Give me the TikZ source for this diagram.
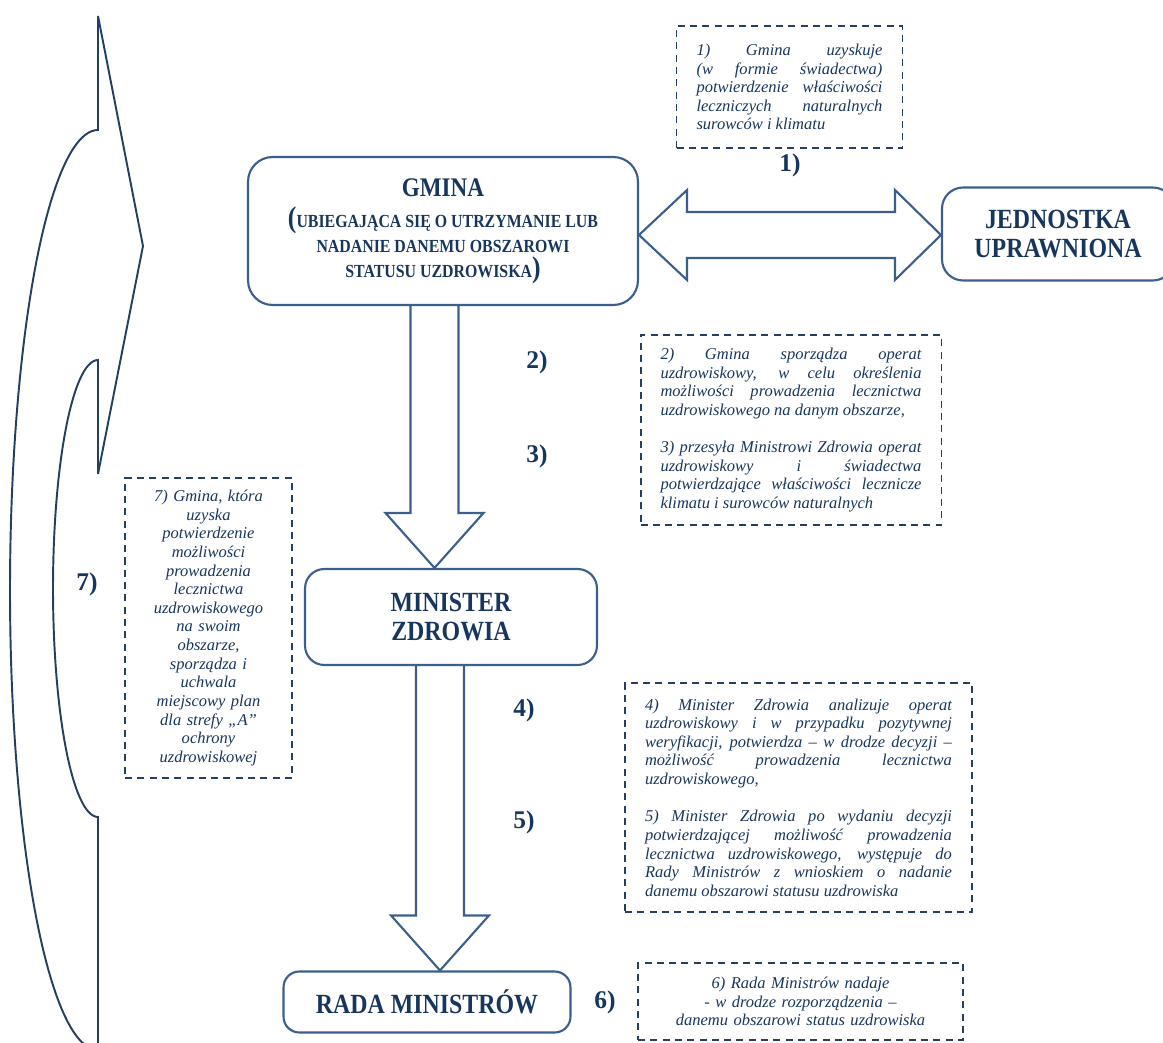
\documentclass[tikz,border=0pt]{standalone}
\usepackage{fontspec}
\setmainfont{Liberation Serif}
\newfontfamily\titlefont[FakeStretch=0.86]{Liberation Serif}
\usepackage{tikz}
\usetikzlibrary{positioning,calc}

\definecolor{navy}{HTML}{17365D}
\definecolor{framecol}{HTML}{3A5F8D}
\definecolor{dashcol}{HTML}{243F60}

\newcommand{\notesetup}{\parindent=0pt\tolerance=10000\hyphenpenalty=10000}

\tikzset{
  mainbox/.style={draw=framecol, line width=1.2pt, text=navy, align=center,
    font=\titlefont\bfseries\fontsize{15.8}{17}\selectfont},
  notebox/.style={draw=dashcol, line width=1.1pt, dash pattern=on 4pt off 3pt,
    text=navy, inner xsep=0.4cm, inner ysep=3pt,
    font=\itshape\fontsize{9.4}{10.6}\selectfont\notesetup},
  steplabel/.style={text=navy, font=\bfseries\fontsize{14.5}{14.5}\selectfont},
  blockarrow/.style={draw=framecol, line width=1.2pt, line join=miter},
  curvearrow/.style={draw=dashcol, line width=1.1pt, line join=miter},
}

% down block arrow: upper node, lower node, column
\newcommand{\blockdown}[3]{%
  \draw[blockarrow] ($(#1.south -| #3)+(-24,0)$) -- ($(#2.north -| #3)+(-24,-55)$)
    -- ($(#2.north -| #3)+(-49,-55)$) -- (#2.north -| #3)
    -- ($(#2.north -| #3)+(49,-55)$) -- ($(#2.north -| #3)+(24,-55)$)
    -- ($(#1.south -| #3)+(24,0)$);}

\begin{document}
\begin{tikzpicture}[x=0.02cm, y=-0.02cm]
    \useasboundingbox (0,0) rectangle (1163,1043);
    \clip (0,0) rectangle (1163,1043);

    % Main boxes
    \node[mainbox, rounded corners=14pt, minimum width=7.8cm, minimum height=2.96cm,
      font=\titlefont\bfseries\fontsize{10.5}{14}\selectfont] (gmina) at (443,231)
      {{\fontsize{15.3}{18}\selectfont GMINA}\\[4pt]
       {\fontsize{17}{14}\selectfont(}UBIEGAJĄCA SIĘ O UTRZYMANIE LUB\\
       NADANIE DANEMU OBSZAROWI\\
       STATUSU UZDROWISKA{\fontsize{17}{14}\selectfont)}};
    \node[mainbox, rounded corners=12pt, minimum width=4.64cm, minimum height=1.86cm] (jednostka) at (1058,234) {JEDNOSTKA\\UPRAWNIONA};
    \node[mainbox, rounded corners=11pt, minimum width=5.84cm, minimum height=1.92cm] (minister) at (451,617) {MINISTER\\ZDROWIA};
    \node[mainbox, rounded corners=9pt, minimum width=5.74cm, minimum height=1.22cm] (rada) at (427,1002) {RADA MINISTRÓW};

    % Block arrows
    \coordinate (row1) at (0,235);
    \coordinate (col1) at (434.5,0);
    \coordinate (col2) at (440,0);
    \draw[blockarrow] (gmina.east |- row1) -- ($(gmina.east |- row1)+(48,-45)$)
      -- ($(gmina.east |- row1)+(48,-23)$) -- ($(jednostka.west |- row1)+(-46,-23)$)
      -- ($(jednostka.west |- row1)+(-46,-45)$) -- (jednostka.west |- row1)
      -- ($(jednostka.west |- row1)+(-46,45)$) -- ($(jednostka.west |- row1)+(-46,23)$)
      -- ($(gmina.east |- row1)+(48,23)$) -- ($(gmina.east |- row1)+(48,45)$) -- cycle;
    \blockdown{gmina}{minister}{col1}
    \blockdown{minister}{rada}{col2}

    % Curved arrow back to the start
    \draw[curvearrow] (98,1050) -- (98,817)
      -- plot[domain=-90:90, samples=60] ({98-45*cos(\x)}, {588.5-228.5*sin(\x)})
      -- (98,474) -- (143,246) -- (98,16) -- (98,130)
      -- plot[domain=90:-90, samples=90] ({98-88*cos(\x)}, {590-460*sin(\x)})
      -- cycle;

    % Step numbers
    \node[steplabel] (s1) at (790,165) {1)};
    \node[steplabel] (s2) at (537,362) {2)};
    \node[steplabel] (s3) at (537,456) {3)};
    \node[steplabel] (s4) at (524,710) {4)};
    \node[steplabel] (s5) at (524,822) {5)};
    \node[steplabel] (s6) at (605,1002) {6)};
    \node[steplabel] (s7) at (87,584) {7)};

    % Notes
    \node[notebox, text width=3.72cm, minimum height=2.44cm, align=justify] (note1) at (789.5,87)
      {1) Gmina uzyskuje\linebreak (w formie świadectwa)\linebreak potwierdzenie właściwości\linebreak leczniczych naturalnych\linebreak surowców i klimatu};
    \node[notebox, text width=5.22cm, minimum height=3.8cm, align=justify] (note2) at (791,430)
      {2) Gmina sporządza operat\linebreak uzdrowiskowy, w celu określenia\linebreak możliwości prowadzenia lecznictwa\linebreak uzdrowiskowego na danym obszarze,\par\vspace{\baselineskip}
       3) przesyła Ministrowi Zdrowia operat\linebreak uzdrowiskowy i świadectwa\linebreak potwierdzające właściwości lecznicze\linebreak klimatu i surowców naturalnych};
    \node[notebox, text width=6.14cm, minimum height=4.58cm, align=justify] (note3) at (798.5,797.5)
      {4) Minister Zdrowia analizuje operat\linebreak uzdrowiskowy i w przypadku pozytywnej\linebreak weryfikacji, potwierdza – w drodze decyzji –\linebreak możliwość prowadzenia lecznictwa\linebreak uzdrowiskowego,\par\vspace{\baselineskip}
       5) Minister Zdrowia po wydaniu decyzji\linebreak potwierdzającej możliwość prowadzenia\linebreak lecznictwa uzdrowiskowego, występuje do\linebreak Rady Ministrów z wnioskiem o nadanie\linebreak danemu obszarowi statusu uzdrowiska};
    \node[notebox, text width=5.7cm, minimum height=1.54cm, align=center] (note6) at (800.5,1001.5)
      {6) Rada Ministrów nadaje\\- w drodze rozporządzenia –\\danemu obszarowi status uzdrowiska};
    \node[notebox, text width=2.54cm, minimum height=6cm, align=center] (note7) at (208.5,628)
      {7) Gmina, która\\uzyska\\potwierdzenie\\możliwości\\prowadzenia\\lecznictwa\\uzdrowiskowego\\na swoim\\obszarze,\\sporządza i\\uchwala\\miejscowy plan\\dla strefy „A"\\ochrony\\uzdrowiskowej};
\end{tikzpicture}
\end{document}
